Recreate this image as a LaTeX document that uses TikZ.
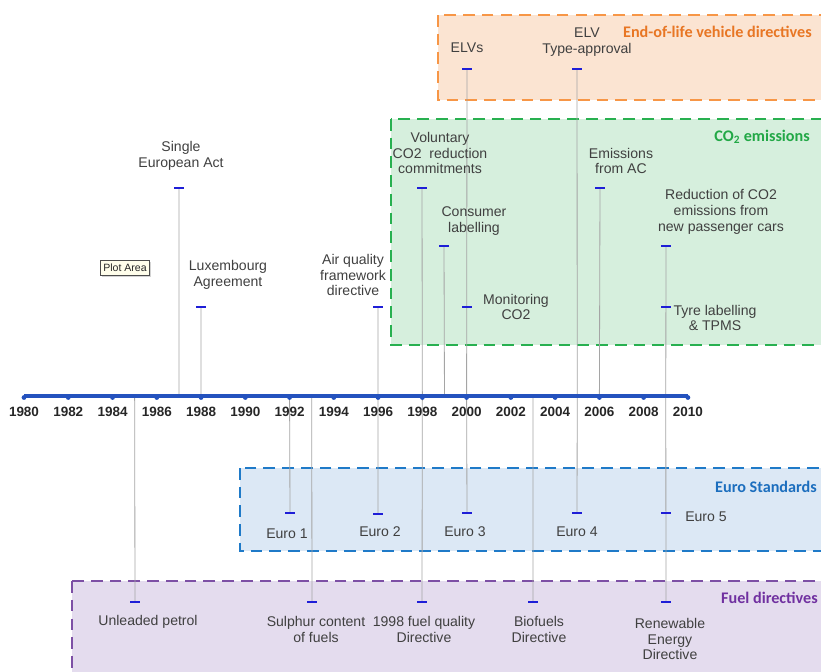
\documentclass[tikz,border=0pt]{standalone}
\usepackage{fontspec}
\setmainfont{Liberation Sans}
\newfontfamily\calfont{Carlito}
\usepackage{tikz}
\usetikzlibrary{positioning,calc,shadows}

\definecolor{txtgray}{RGB}{64,64,64}
\definecolor{stemgray}{RGB}{165,165,165}
\definecolor{axisblue}{RGB}{36,82,190}
\definecolor{markblue}{RGB}{30,30,215}
\definecolor{elvfill}{RGB}{251,228,210}
\definecolor{elvline}{RGB}{247,150,70}
\definecolor{elvtext}{RGB}{232,118,36}
\definecolor{cofill}{RGB}{214,239,221}
\definecolor{coline}{RGB}{40,176,80}
\definecolor{cotext}{RGB}{34,168,70}
\definecolor{eurofill}{RGB}{220,232,245}
\definecolor{euroline}{RGB}{31,122,200}
\definecolor{eurotext}{RGB}{28,110,190}
\definecolor{fuelfill}{RGB}{228,220,238}
\definecolor{fuelline}{RGB}{125,80,165}
\definecolor{fueltext}{RGB}{112,48,160}

\newcommand{\evfont}{\fontsize{12}{13.6}\selectfont}

\begin{document}
\begin{tikzpicture}[
  x=0.03cm,y=-0.03cm,
  grpbox/.style={line width=2.4pt,dash pattern=on 10pt off 6pt},
  grplbl/.style={anchor=east,inner sep=0pt,font=\calfont\bfseries\fontsize{13.8}{15}\selectfont},
  evtext/.style={align=center,inner sep=0pt,text=txtgray,font=\evfont},
  evmark/.style={rectangle,fill=markblue,minimum width=3.2mm,minimum height=0.75mm,inner sep=0pt},
  stem/.style={draw=stemgray,line width=0.7pt},
  yearlbl/.style={inner sep=0pt,text=black!85,font=\bfseries\fontsize{11.5}{13}\selectfont}
]
\useasboundingbox (0,0) rectangle (821,671);
\clip (0,0) rectangle (821,671);

% theme boxes
\draw[grpbox,draw=elvline,fill=elvfill] (438,15) rectangle (840,100);
\draw[grpbox,draw=coline,fill=cofill] (391,119) rectangle (840,345);
\draw[grpbox,draw=euroline,fill=eurofill] (240,468) rectangle (840,551);
\draw[grpbox,draw=fuelline,fill=fuelfill] (72,581) rectangle (840,700);

\node[grplbl,text=elvtext] (gElv) at (812,32) {End-of-life vehicle directives};
\node[grplbl,text=cotext] (gCo) at (810,137) {CO\textsubscript{2} emissions};
\node[grplbl,text=eurotext] (gEuro) at (817,487) {Euro Standards};
\node[grplbl,text=fueltext] (gFuel) at (818,598) {Fuel directives};

% axis points, one per year
\foreach \yr in {1980,...,2010}
  \coordinate (a\yr) at ({24+(\yr-1980)*22.13},396);

% stems
\draw[stem] (a1987) -- (179,188) coordinate (m1);
\draw[stem] (a1988) -- (201,307) coordinate (m2);
\draw[stem] (a1996) -- (378,307) coordinate (m3);
\draw[stem] (a1998) -- (422,188) coordinate (m4);
\draw[stem] (a1999) -- (444,246) coordinate (m5);
\draw[stem] (a2000) -- (467,69) coordinate (m6);
\draw[stem] (a2005) -- (577,69) coordinate (m7);
\draw[stem] (a2006) -- (600,188) coordinate (m8);
\draw[stem] (a2009) -- (666,246) coordinate (m9);
\draw[stem] (a1985) -- (135,602) coordinate (b1);
\draw[stem] (a1992) -- (290,513) coordinate (b2);
\draw[stem] (a1993) -- (312,602) coordinate (b3);
\draw[stem] (a1996) -- (378,514) coordinate (b4);
\draw[stem] (a1998) -- (422,602) coordinate (b5);
\draw[stem] (a2000) -- (467,513) coordinate (b6);
\draw[stem] (a2003) -- (533,602) coordinate (b7);
\draw[stem] (a2005) -- (577,513) coordinate (b8);
\draw[stem] (a2009) -- (666,602) coordinate (b9);

% time axis
\draw[axisblue,line width=3.4pt] (a1980) -- (a2010);
\foreach \yr in {1980,1982,...,2010}{
  \fill[axisblue] ($(a\yr)+(0,1.5)$) circle (2.4);
  \node[yearlbl] (l\yr) at ($(a\yr)+(0,16)$) {\yr};
}

% markers
\foreach \p in {m1,m2,m3,m4,m5,m6,m7,m8,m9,b1,b2,b3,b4,b5,b6,b7,b8,b9}
  \node[evmark] (k\p) at (\p) {};
\node[evmark] (kMon) at (467,307) {};
\node[evmark] (kTyre) at (666,307) {};
\node[evmark] (kEuro5) at (666,513) {};

% events above the axis
\node[evtext] (tSea) at (181,156) {Single\\European Act};
\node[evtext] (tLux) at (228,275) {Luxembourg\\Agreement};
\node[evtext] (tAir) at (353,275) {Air quality\\framework\\directive};
\node[evtext] (tVol) at (440,153) {Voluntary\\CO2~ reduction\\commitments};
\node[evtext] (tCons) at (474,221) {Consumer\\labelling};
\node[evtext] (tMon) at (516,307) {Monitoring\\CO2};
\node[evtext] (tElvs) at (467,48) {ELVs};
\node[evtext] (tElvTa) at (587,42) {ELV\\Type-approval};
\node[evtext] (tAc) at (621,161) {Emissions\\from AC};
\node[evtext] (tRed) at (721,212) {Reduction of CO2\\emissions from\\new passenger cars};
\node[evtext] (tTyre) at (715,318) {Tyre labelling\\\& TPMS};

% events below the axis
\node[evtext] (tE1) at (287,534) {Euro 1};
\node[evtext] (tE2) at (380,532) {Euro 2};
\node[evtext] (tE3) at (465,532) {Euro 3};
\node[evtext] (tE4) at (577,532) {Euro 4};
\node[evtext] (tE5) at (706,517) {Euro 5};
\node[evtext] (tUnl) at (148,622) {Unleaded petrol};
\node[evtext] (tSul) at (316,629) {Sulphur content\\of fuels};
\node[evtext] (tFq) at (424,629) {1998 fuel quality\\Directive};
\node[evtext] (tBio) at (539,629) {Biofuels\\Directive};
\node[evtext] (tRen) at (670,639) {Renewable\\Energy\\Directive};

% tooltip
\node[draw=black!70,fill=yellow!8,drop shadow={opacity=0.35,shadow xshift=1.5pt,shadow yshift=-1.5pt},
      inner xsep=2.5pt,inner ysep=3pt,font=\fontsize{9}{10}\selectfont,text=black!85]
  (tip) at (125,268) {Plot Area};
\end{tikzpicture}
\end{document}
